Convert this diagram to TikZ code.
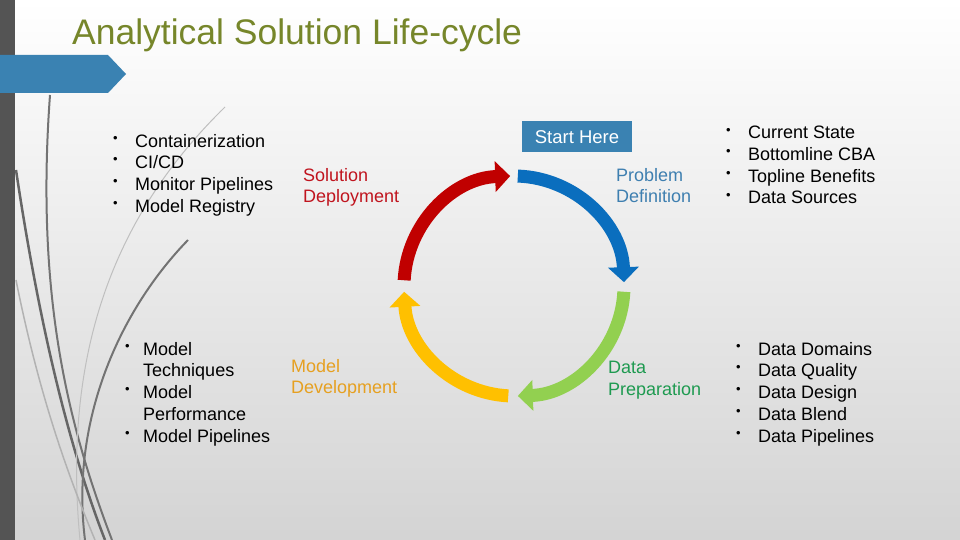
\documentclass[tikz,border=0pt]{standalone}
\usepackage{fontspec}
\setmainfont{Liberation Sans}
\usetikzlibrary{arrows.meta}
\definecolor{olive}{HTML}{76862A}
\definecolor{sblue}{HTML}{3A82B2}
\definecolor{ablue}{HTML}{0A6EBE}
\definecolor{ared}{HTML}{C00000}
\definecolor{agreen}{HTML}{92D050}
\definecolor{ayellow}{HTML}{FFC000}
\definecolor{tblue}{HTML}{3E7FB0}
\definecolor{tred}{HTML}{C0141E}
\definecolor{torange}{HTML}{E6A020}
\definecolor{tgreen}{HTML}{1E9A50}
\tikzset{
  x=1pt,y=-1pt,
  txt/.style={font=\fontsize{18}{21.7}\selectfont,anchor=north west,align=left,inner sep=0pt},
  bul/.style={font=\fontsize{13}{21.7}\selectfont,anchor=north west,align=left,inner sep=0pt,yshift=-2pt},
  ring/.style={line width=13pt,-{Triangle[width=30pt,length=15pt]}},
  deco/.style={line width=#1,gray!70!black},
}
\begin{document}
\begin{tikzpicture}
\useasboundingbox (0,0) rectangle (960,540);
\shade[top color=white,bottom color=black!17] (0,0) rectangle (960,540);
\fill[black!67] (0,0) rectangle (15,540);
% decorative curves
\draw[deco=2pt,black!55] (50,95) .. controls (35,300) and (70,430) .. (112,540);
\draw[deco=2.5pt,black!60] (16,170) .. controls (40,330) and (70,450) .. (105,540);
\draw[deco=1pt,black!25] (225,107) .. controls (130,200) and (60,330) .. (80,540);
\draw[deco=2pt,black!55] (188,240) .. controls (120,310) and (70,420) .. (85,540);
\draw[deco=1.5pt,black!30] (16,280) .. controls (40,400) and (70,480) .. (95,540);
% pentagon
\fill[sblue] (0,55) -- (108,55) -- (126,74) -- (108,93) -- (0,93) -- cycle;
\node[anchor=west,text=olive,font=\fontsize{35.5}{40}\selectfont,inner sep=0pt] (title) at (72,35) {Analytical Solution Life-cycle};
% ring (angles measured clockwise on screen because y points down)
\coordinate (c) at (514,286);
\draw[ring,ablue] ([shift={(-88:110)}]c) arc[start angle=-88,end angle=-2,radius=110];
\draw[ring,agreen] ([shift={(3:110)}]c) arc[start angle=3,end angle=88,radius=110];
\draw[ring,ayellow] ([shift={(93:110)}]c) arc[start angle=93,end angle=177,radius=110];
\draw[ring,ared] ([shift={(-177:110)}]c) arc[start angle=-177,end angle=-92,radius=110];
\node[fill=sblue,text=white,font=\fontsize{18.5}{20}\selectfont,minimum width=110pt,minimum height=31pt,inner sep=0pt] (start) at (577,137) {Start Here};
% labels
\node[txt,text=tred] (sd) at (303,168) {Solution\\Deployment};
\node[txt,text=tblue] (pd) at (616,168) {Problem\\Definition};
\node[txt,text=torange] (md) at (291,359) {Model\\Development};
\node[txt,text=tgreen] (dp) at (608,361) {Data\\Preparation};
% bullets
\node[bul] (b1) at (113,134) {•\\•\\•\\•};
\node[txt] (l1) at (135,134) {Containerization\\CI/CD\\Monitor Pipelines\\Model Registry};
\node[bul] (b2) at (125,342) {•\\\\•\\\\•};
\node[txt] (l2) at (143,342) {Model\\Techniques\\Model\\Performance\\Model Pipelines};
\node[bul] (b3) at (726,126) {•\\•\\•\\•};
\node[txt] (l3) at (748,126) {Current State\\Bottomline CBA\\Topline Benefits\\Data Sources};
\node[bul] (b4) at (736,342) {•\\•\\•\\•\\•};
\node[txt] (l4) at (758,342) {Data Domains\\Data Quality\\Data Design\\Data Blend\\Data Pipelines};
\end{tikzpicture}
\end{document}
